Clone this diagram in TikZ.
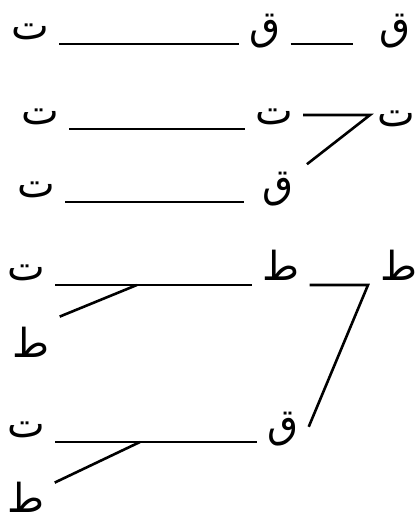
\documentclass[tikz,border=0pt]{standalone}
\usepackage{fontspec}
\newfontfamily\arabicfont[Script=Arabic]{DejaVu Sans}
\TeXXeTstate=1
\usetikzlibrary{positioning}

\begin{document}
\begin{tikzpicture}[
    x=1pt, y=-1pt,
    letter/.style={font=\arabicfont\fontsize{40}{40}\selectfont, inner xsep=10pt, inner ysep=0pt, text height=26pt, text depth=4pt, anchor=south},
    link/.style={line width=2.6pt}
]
\useasboundingbox (0,0) rectangle (416,525);

\node[letter] (taa1) at (30,44)  {\beginR ت\endR};
\node[letter] (qaf1) at (265,44) {\beginR ق\endR};
\node[letter] (qaf2) at (395,44) {\beginR ق\endR};
\node[letter] (taa2) at (40,129)  {\beginR ت\endR};
\node[letter] (taa3) at (274,129) {\beginR ت\endR};
\node[letter] (taa4) at (396,131) {\beginR ت\endR};
\node[letter] (taa5) at (36,202)  {\beginR ت\endR};
\node[letter] (qaf3) at (278,202) {\beginR ق\endR};
\node[letter] (taa6) at (26,285)  {\beginR ت\endR};
\node[letter] (tah1) at (281,285) {\beginR ط\endR};
\node[letter] (tah2) at (399,285) {\beginR ط\endR};
\node[letter] (tah3) at (31,362)  {\beginR ط\endR};
\node[letter] (taa7) at (26,442)  {\beginR ت\endR};
\node[letter] (qaf4) at (283,442) {\beginR ق\endR};
\node[letter] (tah4) at (26,517)  {\beginR ط\endR};

\coordinate (fork1) at (370,115);
\coordinate (fork3) at (368,285);
\path (taa6.south east) -- coordinate[pos=0.415] (fork2) (tah1.south west);
\path (taa7.south east) -- coordinate[pos=0.42] (fork4) (qaf4.south west);

\draw[link] (taa1.south east) -- (qaf1.south west);
\draw[link, shorten >=16pt] (qaf1.south east) -- (qaf2.south west);
\draw[link] (taa2.south east) -- (taa3.south west);
\draw[link, shorten >=12pt] (taa3.east |- fork1) -- (fork1) -- (qaf3);
\draw[link, shorten >=8pt] (taa5.south east) -- (qaf3.south west);
\draw[link] (taa6.south east) -- (tah1.south west);
\draw[link] (fork2) -- ([yshift=15pt]tah3.north east);
\draw[link] (tah1.south east) -- (fork3) -- (qaf4.east);
\draw[link] (taa7.south east) -- (qaf4.south west);
\draw[link] (fork4) -- ([yshift=4pt]tah4.north east);
\end{tikzpicture}
\end{document}
